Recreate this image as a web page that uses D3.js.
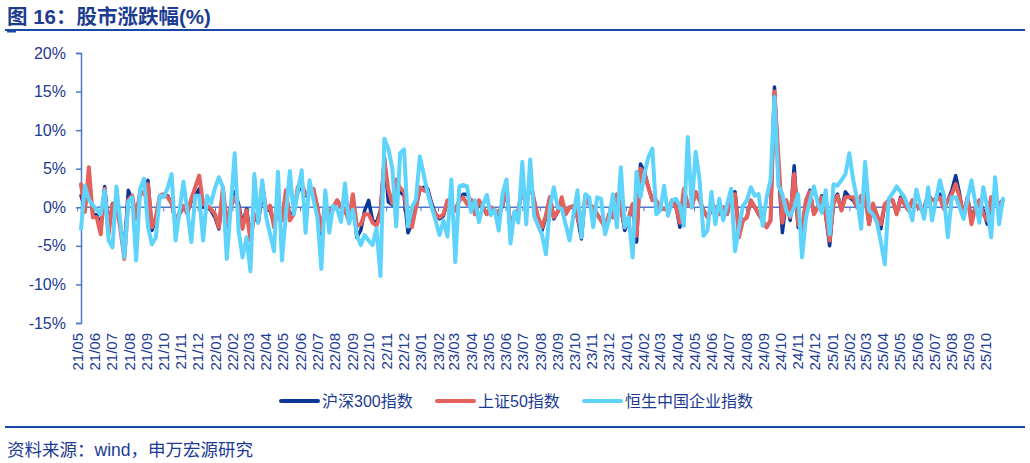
<!DOCTYPE html>
<html>
<head>
<meta charset="utf-8">
<script src="https://cdn.jsdelivr.net/npm/d3@7"></script>
<style>
  body { margin: 0; background: #fff; }
  svg { display: block; }
</style>
</head>
<body>
<svg id="chart"></svg>
<script>
// weekly data, first week ending 2021-05-07
var startDate = new Date(2021, 4, 7);

var monthLabels = ["21/05","21/06","21/07","21/08","21/09","21/10","21/11","21/12",
  "22/01","22/02","22/03","22/04","22/05","22/06","22/07","22/08","22/09","22/10","22/11","22/12",
  "23/01","23/02","23/03","23/04","23/05","23/06","23/07","23/08","23/09","23/10","23/11","23/12",
  "24/01","24/02","24/03","24/04","24/05","24/06","24/07","24/08","24/09","24/10","24/11","24/12",
  "25/01","25/02","25/03","25/04","25/05","25/06","25/07","25/08","25/09","25/10"];

var yTicks = [-15, -10, -5, 0, 5, 10, 15, 20];

// 沪深300指数
var hs300 = [1.5,0.0,3.5,-0.9,-1.0,-2.5,2.7,-2.8,0.5,0.3,
  -2.4,-5.5,2.2,1.0,-1.0,1.7,2.0,3.5,-3.0,-1.5,
  1.3,1.5,1.5,0.5,-2.0,-0.9,0.0,-0.7,0.8,1.5,
  2.4,0.0,0.0,-0.4,-1.3,-2.8,1.7,-2.6,0.2,2.0,
  0.4,-2.2,-0.2,-3.5,-1.1,-2.0,1.7,-0.4,-0.4,-2.2,
  0.0,-1.7,1.7,-1.3,-0.5,2.0,2.6,1.5,2.0,
  2.2,0.0,-3.5,0.4,-0.7,0.0,0.9,0.0,-0.4,-1.7,
  1.3,-3.9,-3.0,-0.4,0.9,-1.7,-2.0,-0.4,6.5,0.7,
  0.3,3.2,2.0,1.5,-3.3,-2.0,0.0,2.2,2.6,2.4,
  0.5,-0.9,-1.5,-1.1,0.7,0.2,-0.4,0.9,1.7,1.7,
  0.5,-0.9,0.5,0.0,-0.9,0.0,-0.4,-1.0,0.2,2.2,
  -2.4,-0.9,-0.4,2.4,0.0,3.0,0.9,-1.7,-3.0,-1.3,1.3,
  -1.5,-0.6,0.9,-0.9,0.0,0.0,-1.3,-4.1,1.5,0.4,
  0.0,-0.9,-1.7,-2.6,-0.9,-1.3,1.5,0.0,-3.0,-1.7,
  0.4,-4.5,5.6,4.6,2.6,0.9,0.9,-0.2,-0.2,-0.4,
  0.9,0.2,-2.6,1.7,0.4,0.0,2.0,0.9,-0.4,-1.3,
  -0.4,0.0,-0.9,0.0,-0.9,1.7,2.0,-3.3,-1.7,-1.3,
  0.9,0.0,-0.9,-1.7,-2.6,-1.7,15.6,5.0,-3.3,0.9,
  -1.7,5.4,-2.6,-2.8,0.9,2.2,-0.9,0.0,1.5,-1.0,
  -5.0,0.9,1.7,-0.4,2.0,1.3,0.9,0.0,1.2,1.7,
  -2.2,0.2,-1.3,-2.8,0.4,0.9,0.9,-0.7,1.3,0.4,
  -0.4,0.9,0.2,0.0,0.0,1.7,0.9,1.1,1.7,0.0,
  0.9,2.2,4.1,1.7,-1.3,1.3,-1.5,0.0,0.9,-0.4,
  -2.2,1.3,0.9,0.5,0.9];

// 上证50指数
var sz50 = [3.0,-0.6,5.2,-1.3,-1.3,-3.5,2.4,-3.5,0.4,0.2,
  -2.8,-6.7,1.0,1.5,-1.5,2.0,1.7,3.0,-2.6,-1.3,
  1.5,1.7,1.3,0.5,-1.7,-0.7,0.2,-0.9,1.1,2.6,
  4.1,0.4,0.2,-0.2,-0.9,-2.6,2.6,-2.0,0.0,1.3,
  0.0,-2.8,-0.4,-4.3,-0.9,-1.7,3.0,-0.4,0.2,-2.6,
  -0.2,-1.7,2.2,-1.7,-0.9,2.6,3.0,1.7,2.0,
  2.4,0.0,-3.0,0.4,-0.9,0.0,0.9,0.0,-0.4,-1.7,
  1.7,-2.4,-2.2,-0.9,-0.9,-2.0,-2.4,-0.9,6.0,2.3,
  0.5,3.6,2.5,2.0,-1.7,-2.6,0.0,2.6,2.2,2.0,
  0.0,-0.9,-1.3,-0.9,0.9,0.0,-0.4,0.9,1.3,0.4,
  1.0,-0.9,0.9,0.0,-0.9,0.0,-0.4,-0.7,0.4,2.6,
  -2.6,-0.9,-0.4,2.6,0.2,3.5,0.9,-1.3,-2.6,-1.0,1.3,
  -1.3,-0.6,1.3,-0.9,0.0,0.2,-1.3,-3.0,1.5,0.4,
  0.0,-0.9,-1.7,-2.6,-0.9,-1.3,1.7,0.0,-2.6,-1.3,
  0.4,-3.7,5.0,4.3,2.6,0.9,0.9,-0.2,-0.2,-0.4,
  0.9,0.0,-2.0,2.4,0.4,0.0,2.0,0.9,-0.4,-1.3,
  -0.4,0.0,-0.9,0.0,-0.9,1.7,1.7,-3.9,-1.7,-1.3,
  0.9,0.0,-0.9,-1.7,-2.6,-1.7,15.0,6.5,-2.0,0.9,
  -1.3,4.3,-2.2,-3.0,0.9,2.0,-0.9,0.0,1.3,-1.0,
  -4.3,0.5,1.5,-0.4,1.3,1.3,1.3,0.0,1.5,1.5,
  -2.2,0.5,-1.0,-2.2,0.4,0.9,0.9,-0.9,1.1,0.4,
  -0.4,0.9,0.2,-0.2,0.0,1.3,0.9,0.9,1.3,-0.2,
  0.9,1.7,3.0,1.3,-1.3,1.3,-2.2,0.0,0.9,-0.9,
  -1.7,1.3,0.9,0.4,0.9];

// 恒生中国企业指数
var hsce = [-2.8,2.8,1.0,0.3,-0.3,-0.9,2.2,-4.3,-5.2,2.7,
  -2.0,-6.5,0.7,1.3,-6.9,2.4,3.7,-2.5,-4.8,-3.9,
  1.5,1.3,2.5,4.3,-4.3,-0.5,3.3,-0.5,-4.5,1.5,
  1.5,-4.3,1.5,0.5,2.5,3.9,2.6,-6.7,0.0,7.0,
  -3.0,-6.5,-3.9,-8.3,4.3,-2.0,3.5,-1.3,-3.5,-5.7,
  4.6,-6.9,-1.0,4.7,-0.9,2.0,4.8,-3.3,3.5,1.0,
  -1.3,-8.0,2.2,-3.3,0.2,-0.2,-1.9,3.1,-2.1,-0.3,
  -3.6,-4.9,-3.6,-4.3,-4.9,-2.7,-8.9,8.9,7.6,5.1,
  -2.5,7.0,7.5,-2.5,0.0,1.0,6.6,4.2,1.8,0.0,
  -1.7,-3.6,-1.7,-3.8,3.6,-7.1,2.7,2.9,2.7,-0.6,
  0.9,-1.9,0.3,1.6,-1.0,-0.3,-3.0,1.8,3.6,-4.7,
  -0.5,-2.0,5.9,-2.2,6.2,-1.1,-2.4,-3.5,-6.1,0.0,
  2.6,0.0,-0.2,-2.2,-4.3,-0.9,2.2,-3.9,1.7,1.3,
  -2.6,1.3,1.1,-3.5,-1.7,1.7,-2.6,5.2,-2.6,-1.3,
  -6.5,4.6,1.3,4.3,6.5,7.6,-0.9,-0.4,2.8,-1.1,
  0.9,1.1,0.2,-2.4,9.1,0.0,7.2,3.5,-3.7,-3.0,
  2.0,-2.2,1.1,-1.7,0.4,2.4,-5.7,-2.6,0.2,0.9,
  2.6,1.5,1.7,-2.4,1.3,3.5,14.3,2.8,1.7,-0.5,
  -1.1,0.0,1.7,-6.5,-1.3,0.8,2.7,0.5,-0.7,2.2,
  -3.5,3.0,2.8,3.5,4.3,7.0,3.5,1.0,-2.8,5.9,
  -0.4,-0.9,-2.0,-4.5,-7.4,1.1,1.8,2.7,2.0,1.3,
  0.0,-1.7,2.3,0.3,-1.5,2.6,-1.7,1.0,3.5,1.5,
  -3.9,1.3,1.3,0.0,-1.5,1.0,3.5,0.5,-2.0,2.6,
  0.0,-3.9,3.9,-2.2,1.1];

var seriesNames = ["沪深300指数", "上证50指数", "恒生中国企业指数"];
var seriesColors = ["#0d3797", "#e6605c", "#5ed3fb"];
var seriesWidths = [3.5, 4, 4];

var W = 1030, H = 463;
var textColor = "#1b3a93";
var axisColor = "#4d78cc";
var fontFamily = "'Liberation Sans', Arial, 'Noto Sans CJK SC', sans-serif";

var svg = d3.select("#chart").attr("width", W).attr("height", H);

var dates = hs300.map(function(d, i) { return d3.timeDay.offset(startDate, 7 * i); });

var x = d3.scaleTime()
    .domain([dates[0], dates[dates.length - 1]])
    .range([81, 1003]);

var y = d3.scaleLinear()
    .domain([-15, 20])
    .range([323, 53]);

// title
svg.append("text")
    .attr("x", 7)
    .attr("y", 24)
    .style("font-family", fontFamily)
    .style("font-size", "20.5px")
    .style("font-weight", "bold")
    .style("fill", "#1d3c91")
    .text("图 16：股市涨跌幅(%)");

svg.append("line")
    .attr("x1", 5).attr("x2", 1025)
    .attr("y1", 30).attr("y2", 30)
    .style("stroke", "#1a47a5")
    .style("stroke-width", 2);

svg.append("rect")
    .attr("x", 7).attr("y", 30)
    .attr("width", 9).attr("height", 2.5)
    .style("fill", "#1a47a5");

// y axis
var yAxis = d3.axisLeft(y)
    .tickValues(yTicks)
    .tickSize(5)
    .tickPadding(10)
    .tickFormat(function(d) { return d + "%"; });

var gy = svg.append("g")
    .attr("transform", "translate(81,0)")
    .call(yAxis);

gy.select(".domain").style("stroke", axisColor).style("stroke-width", 1.5);
gy.selectAll(".tick line").style("stroke", axisColor).style("stroke-width", 1.5);
gy.selectAll(".tick text")
    .style("font-family", fontFamily)
    .style("font-size", "16px")
    .style("fill", textColor);

// zero line with month ticks
var labelDates = monthLabels.map(function(s) {
    var p = s.split("/");
    return new Date(2000 + +p[0], +p[1] - 1, 1);
});

svg.append("line")
    .attr("x1", 81).attr("x2", 1003)
    .attr("y1", y(0)).attr("y2", y(0))
    .style("stroke", axisColor)
    .style("stroke-width", 1.5);

svg.append("g").selectAll("line")
    .data(labelDates)
    .enter().append("line")
    .attr("x1", function(d) { return x(d); })
    .attr("x2", function(d) { return x(d); })
    .attr("y1", y(0))
    .attr("y2", y(0) + 4)
    .style("stroke", axisColor)
    .style("stroke-width", 1);

// month labels at the bottom
svg.append("g").selectAll("text")
    .data(monthLabels)
    .enter().append("text")
    .attr("transform", function(d, i) {
        return "translate(" + x(labelDates[i]) + ",333) rotate(-90)";
    })
    .attr("dy", "0.35em")
    .attr("text-anchor", "end")
    .style("font-family", fontFamily)
    .style("font-size", "15px")
    .style("fill", textColor)
    .text(function(d) { return d; });

// series lines
var line = d3.line()
    .x(function(d, i) { return x(dates[i]); })
    .y(function(d) { return y(d); });

[hs300, sz50, hsce].forEach(function(values, k) {
    svg.append("path")
        .datum(values)
        .attr("d", line)
        .style("fill", "none")
        .style("stroke", seriesColors[k])
        .style("stroke-width", seriesWidths[k])
        .style("stroke-linejoin", "round")
        .style("stroke-linecap", "round");
});

// legend
var legendX = [281, 437, 584];
var legend = svg.append("g");
seriesNames.forEach(function(name, k) {
    legend.append("line")
        .attr("x1", legendX[k]).attr("x2", legendX[k] + 37)
        .attr("y1", 401).attr("y2", 401)
        .style("stroke", seriesColors[k])
        .style("stroke-width", 4)
        .style("stroke-linecap", "round");
    legend.append("text")
        .attr("x", legendX[k] + 41)
        .attr("y", 407)
        .style("font-family", fontFamily)
        .style("font-size", "16px")
        .style("fill", textColor)
        .text(name);
});

// footer
svg.append("line")
    .attr("x1", 5).attr("x2", 1025)
    .attr("y1", 427).attr("y2", 427)
    .style("stroke", "#1a47a5")
    .style("stroke-width", 2);

svg.append("text")
    .attr("x", 7)
    .attr("y", 456)
    .style("font-family", fontFamily)
    .style("font-size", "17.5px")
    .style("fill", textColor)
    .text("资料来源：wind，申万宏源研究");
</script>
</body>
</html>
